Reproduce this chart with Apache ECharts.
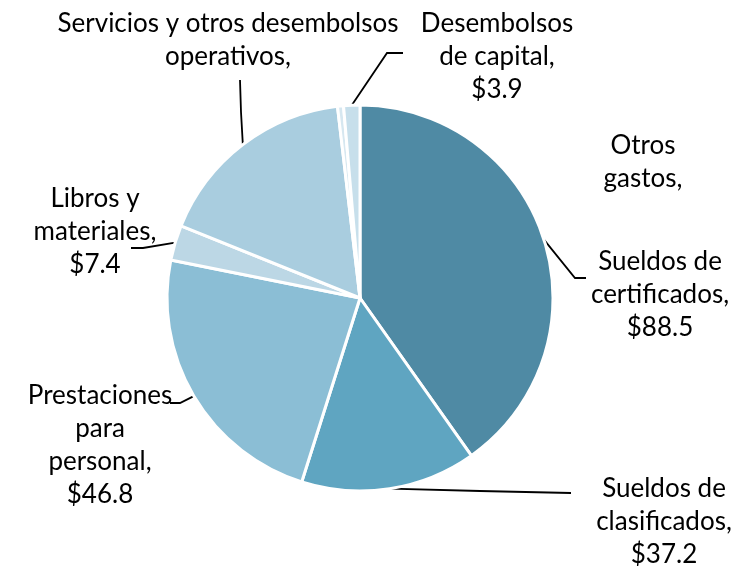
<!DOCTYPE html>
<html>
<head>
<meta charset="utf-8">
<script src="https://cdn.jsdelivr.net/npm/echarts@6/dist/echarts.min.js"></script>
<style>
  html, body { margin: 0; padding: 0; background: #fff; }
  #chart { width: 738px; height: 569px; }
</style>
</head>
<body>
<div id="chart"></div>
<script>
// categories, clockwise from 12 o'clock
var categories = ['Sueldos de certificados', 'Sueldos de clasificados', 'Prestaciones para personal',
  'Libros y materiales', 'Servicios y otros desembolsos operativos', 'Otros gastos', 'Desembolsos de capital'];
// slice sizes as drawn in the picture (millions)
var sliceValues = [88.5, 32.3, 51.2, 6.5, 37.5, 1.1, 3.0];
// label texts shown next to slices
var labelTexts = ['Sueldos de\ncertificados,\n$88.5', 'Sueldos de\nclasificados,\n$37.2',
  'Prestaciones\npara\npersonal,\n$46.8', 'Libros y\nmateriales,\n$7.4',
  'Servicios y otros desembolsos\noperativos,', 'Otros\ngastos,', 'Desembolsos\nde capital,\n$3.9'];
var colors = ['#4f8aa4', '#5fa5c1', '#8bbed5', '#bcd7e5', '#a9cddf', '#d6e7f0', '#c7dfeb'];
// label centres
var labelPos = [[660, 295], [664, 522], [100, 445], [95, 232], [228, 40], [643, 162], [497, 57]];
// leader line bend + end (the start comes from the slice)
var linePts = [[[575, 278], [586, 278]], [[480, 491], [571, 493]], [[180, 403], [170, 403]],
  [[143, 248], [131, 248]], [[241, 112], [240, 80]], null, [[387, 53], [403, 53]]];

var chart = echarts.init(document.getElementById('chart'));

var data = categories.map(function(c, i) {
  return {
    name: c,
    value: sliceValues[i],
    itemStyle: { color: colors[i] },
    label: { formatter: labelTexts[i] },
    labelLine: { show: linePts[i] != null }
  };
});

chart.setOption({
  animation: false,
  series: [{
    type: 'pie',
    center: [360, 298],
    radius: 193,
    startAngle: 90,
    clockwise: true,
    avoidLabelOverlap: false,
    itemStyle: { borderColor: '#fff', borderWidth: 3 },
    label: {
      show: true,
      color: '#000',
      fontFamily: 'Lato',
      fontSize: 26,
      lineHeight: 33,
      align: 'center'
    },
    labelLine: {
      show: true,
      lineStyle: { color: '#000', width: 1.8 }
    },
    labelLayout: function(params) {
      var i = params.dataIndex;
      var p = labelPos[i];
      var res = { x: p[0], y: p[1], align: 'center', verticalAlign: 'middle' };
      if (linePts[i] && params.labelLinePoints) {
        res.labelLinePoints = [params.labelLinePoints[0]].concat(linePts[i]);
      }
      return res;
    },
    emphasis: { disabled: true },
    data: data
  }]
});
</script>
</body>
</html>
